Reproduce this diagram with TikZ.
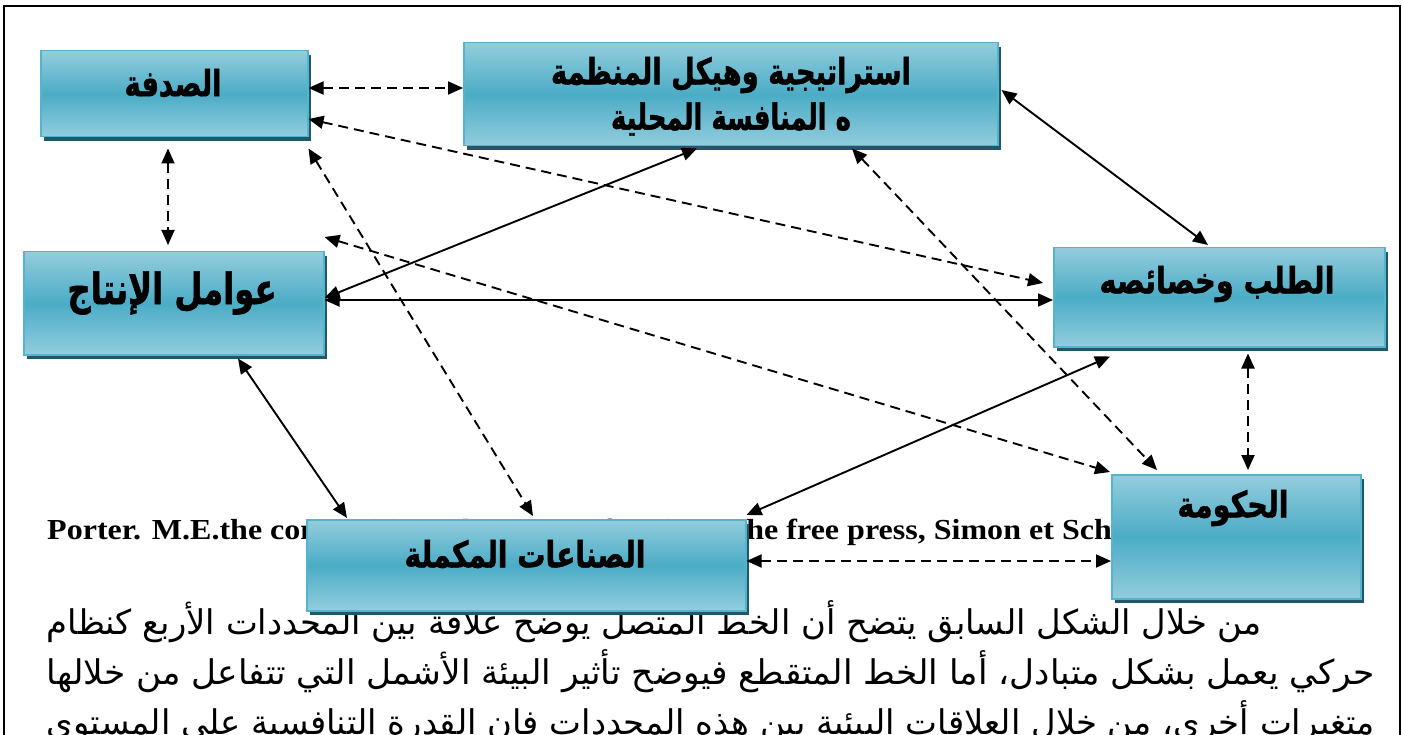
\documentclass[tikz,border=0pt]{standalone}
\usepackage{fontspec}
\usepackage{graphicx}
\usetikzlibrary{calc,shadows,arrows.meta}
\TeXXeTstate=1
\newfontfamily\arabicfont[Script=Arabic]{DejaVu Sans}
\newfontfamily\arabicheavy[Script=Arabic,FakeBold=1.5]{DejaVu Sans Bold}
\newfontfamily\porterfont{Liberation Serif}
\newcommand{\AR}[1]{\beginR #1\endR}
\definecolor{boxlight}{HTML}{93CDDD}
\definecolor{boxmid}{HTML}{4BACC6}
\definecolor{boxedge}{HTML}{55B3CD}
\definecolor{boxshadow}{HTML}{215868}
\tikzset{
  box/.style={draw=boxedge, line width=1.5pt, top color=boxlight, bottom color=boxlight, middle color=boxmid,
    drop shadow={shadow xshift=3pt, shadow yshift=-4pt, fill=boxshadow, opacity=1},
    inner sep=0pt, anchor=north west},
  lab/.style={font=\arabicheavy\fontsize{36}{40}\selectfont, inner sep=0pt},
  body/.style={font=\arabicfont\fontsize{34}{38}\selectfont, inner sep=0pt, anchor=base east},
  conn/.style={line width=1.9pt, {Triangle[length=15pt,width=13pt]}-{Triangle[length=15pt,width=13pt]}},
  dashconn/.style={conn, dash pattern=on 10pt off 6pt}
}
\begin{document}
\begin{tikzpicture}[x=1pt,y=-1pt]
\useasboundingbox (0,0) rectangle (1403,735);
\clip (0,0) rectangle (1403,735);
\fill[white] (0,0) rectangle (1403,735);
% frame
\draw[line width=2pt] (4,745) -- (4,6) -- (1400,6) -- (1400,745);
% background texts
\node[anchor=base west, inner sep=0pt, font=\porterfont\bfseries\fontsize{29}{34}\selectfont] (porter) at (47,539)
  {\resizebox{1134pt}{\height}{Porter. M.E.the competitive advantage of nations, the free press, Simon et Schuster}};
\node[body] (line1) at (1262,634) {\resizebox{1215pt}{\height}{\AR{من خلال الشكل السابق يتضح أن الخط المتصل يوضح علاقة بين المحددات الأربع كنظام}}};
\node[body] (line2) at (1375,684) {\resizebox{1328pt}{\height}{\AR{حركي يعمل بشكل متبادل، أما الخط المتقطع فيوضح تأثير البيئة الأشمل التي تتفاعل من خلالها}}};
\node[body] (line3) at (1375,734) {\resizebox{1328pt}{\height}{\AR{متغيرات أخرى، من خلال العلاقات البيئية بين هذه المحددات فإن القدرة التنافسية على المستوى}}};
% boxes
\node[box, minimum width=267pt, minimum height=86pt] (sadfa) at (40,50) {};
\node[box, minimum width=534pt, minimum height=103pt] (strat) at (463,42) {};
\node[box, minimum width=331pt, minimum height=99pt] (demand) at (1053,247) {};
\node[box, minimum width=300pt, minimum height=103pt] (prod) at (23,251) {};
\node[box, minimum width=439pt, minimum height=91pt] (comp) at (306,519) {};
\node[box, minimum width=249pt, minimum height=124pt] (gov) at (1111,474) {};
% labels
\node[lab] (sadfaT) at (173,83) {\resizebox{97pt}{\height}{\AR{الصدفة}}};
\node[lab] (stratT1) at (731,75) {\resizebox{360pt}{\height}{\AR{استراتيجية وهيكل المنظمة}}};
\node[lab] (stratT2) at (731,119) {\resizebox{240pt}{\height}{\AR{ه المنافسة المحلية}}};
\node[lab] (demandT) at (1217,284) {\resizebox{235pt}{\height}{\AR{الطلب وخصائصه}}};
\node[lab, font=\arabicheavy\fontsize{43}{48}\selectfont] (prodT) at (172,293) {\resizebox{209pt}{\height}{\AR{عوامل الإنتاج}}};
\node[lab] (compT) at (525,554) {\resizebox{241pt}{\height}{\AR{الصناعات المكملة}}};
\node[lab] (govT) at (1233,508) {\resizebox{111pt}{\height}{\AR{الحكومة}}};
% connectors
\draw[dashconn] (sadfa.east |- 0,88) -- (strat.west |- 0,88);
\draw[dashconn] (sadfa.east |- 0,119) -- ($(demand.west |- 0,283)+(-10,0)$);
\draw[dashconn] ($(sadfa.south east)+(0,11)$) -- ($(comp.north west)+(227,-3)$);
\draw[dashconn] ($(sadfa.south west)+(128,11)$) -- ($(prod.north west)+(145,-6)$);
\draw[conn] ($(strat.east |- 0,90)+(3,0)$) -- ($(demand.north west)+(155,-2)$);
\draw[conn] ($(strat.south west)+(234,2)$) -- (prod.east |- 0,298);
\draw[dashconn] ($(strat.south west)+(389,2)$) -- ($(gov.north west)+(46,-4)$);
\draw[conn] (prod.east |- 0,300) -- (demand.west |- 0,300);
\draw[dashconn] (prod.east |- 0,237) -- ($(gov.north west)+(-1,-2)$);
\draw[conn] ($(prod.south west)+(215,3)$) -- ($(comp.north west)+(41,-1)$);
\draw[conn] ($(demand.south west)+(57,9)$) -- ($(comp.north east)+(0,-4)$);
\draw[dashconn] ($(demand.south west)+(195,6)$) -- ($(gov.north west)+(137,-4)$);
\draw[dashconn] (comp.east |- 0,561) -- (gov.west |- 0,561);
\end{tikzpicture}
\end{document}
